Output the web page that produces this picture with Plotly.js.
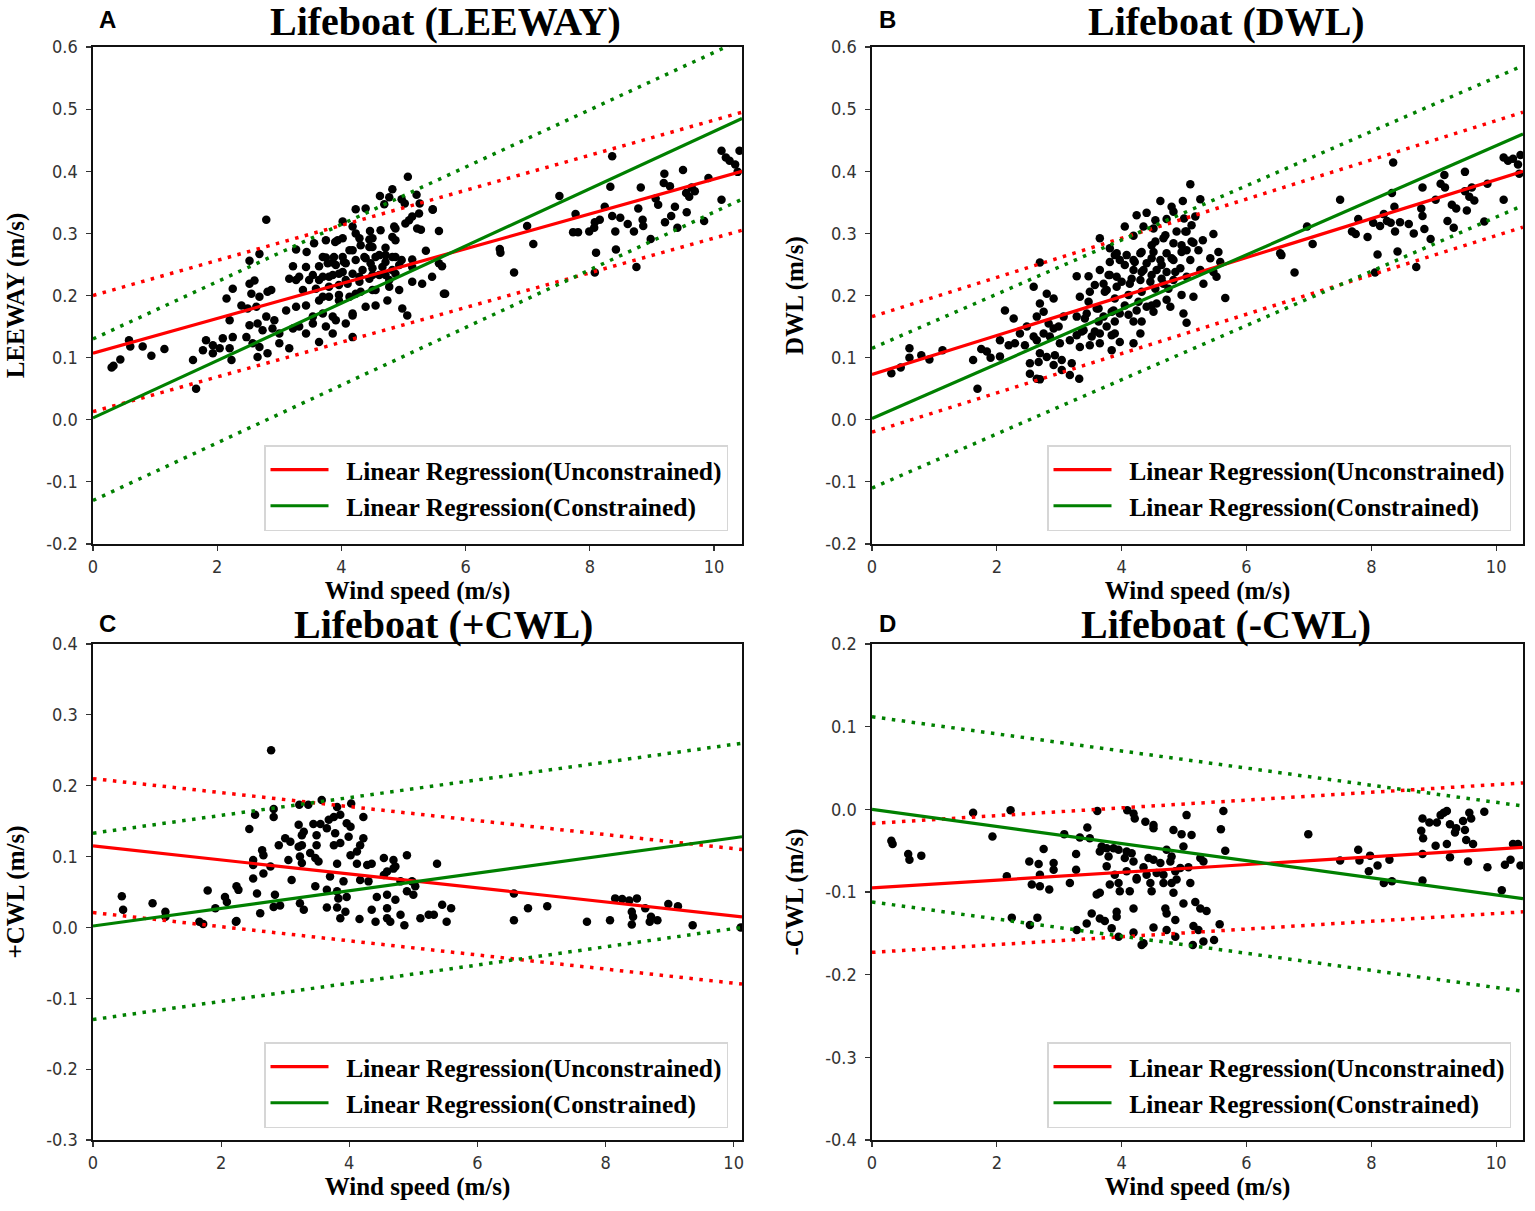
<!DOCTYPE html>
<html>
<head>
<meta charset="utf-8">
<script src="https://cdn.plot.ly/plotly-3.0.1.min.js"></script>
<style>
  html, body { margin: 0; padding: 0; background: #fff; overflow: hidden; }
  #myDiv { width: 1535px; height: 1211px; }
</style>
</head>
<body>
<div id="myDiv"></div>
<script>
//  ======== DATA ========
// wind speed (m/s) and drift speed (m/s)

// A: leeway
var leewayWind = [5.07,4.82,4.62,4.77,4.97,5.21,5.26,5.02,4.69,4.39,4.23,5.47,5.25,2.79,5.09,5.14,5.03,4.02,4.18,5.22,
  4.87,4.63,4.46,4.29,4.45,4.82,5.57,3.75,3.90,4.02,4.50,4.71,3.27,3.44,4.18,3.88,4.02,3.75,4.37,4.61,
  4.82,4.97,5.14,5.36,2.52,2.68,3.22,3.43,3.64,3.86,4.07,4.23,4.47,4.71,4.93,5.14,5.57,5.62,5.46,2.60,
  2.52,2.25,2.15,2.55,2.68,2.81,2.87,3.16,3.32,3.54,3.64,3.80,3.96,4.07,4.29,4.50,4.71,4.87,5.14,5.30,
  2.20,2.39,2.49,2.63,2.79,2.92,3.11,3.27,3.43,3.64,3.80,3.96,4.13,4.31,4.55,4.77,4.93,3.54,3.70,3.86,
  4.18,4.39,4.55,4.74,4.98,5.06,5.65,2.52,2.65,2.73,2.89,3.00,3.22,3.32,3.54,3.75,3.91,4.07,4.18,3.43,
  3.64,3.86,4.18,1.82,1.93,2.09,2.25,2.47,2.57,2.68,2.81,3.00,3.16,1.77,2.04,2.20,1.93,1.61,2.23,2.65,
  1.66,0.30,0.33,0.44,0.58,0.60,0.80,0.94,1.15,5.67,6.56,6.55,6.78,6.99,7.09,7.51,7.77,7.73,7.81,7.99,
  8.08,8.07,8.10,8.08,8.16,8.24,8.33,8.36,8.36,8.41,8.42,8.49,8.61,8.71,8.75,8.78,8.82,8.85,8.86,8.98,
  9.06,9.10,9.19,9.20,9.21,9.29,9.31,9.37,9.41,9.50,9.55,9.56,9.60,9.64,9.69,9.84,9.91,10.12,10.12,10.19,
  10.25,10.34,10.41,10.38,5.47,5.28,
  3.56,3.94,4.23,4.50,4.85,4.87,4.45,4.31,4.13,3.70,3.78,3.91,4.04,4.39,4.55,4.71,4.87,3.27,3.48,3.70,
  3.86,4.02,4.18,4.34,4.50,4.66,4.82,3.38,3.59,3.80,3.96,4.10,4.29,4.45,4.61,4.77,3.70,3.96,4.23,4.50];
var leewayVal = [0.391,0.371,0.360,0.358,0.355,0.362,0.348,0.348,0.347,0.340,0.339,0.339,0.332,0.322,0.321,0.327,0.316,0.319,0.311,0.308,
  0.308,0.305,0.304,0.292,0.290,0.294,0.304,0.289,0.286,0.292,0.278,0.277,0.274,0.270,0.273,0.262,0.262,0.261,0.262,0.265,
  0.262,0.257,0.258,0.272,0.256,0.267,0.247,0.246,0.247,0.253,0.252,0.257,0.252,0.254,0.249,0.246,0.252,0.247,0.230,0.224,
  0.219,0.211,0.195,0.203,0.198,0.206,0.209,0.227,0.230,0.233,0.225,0.230,0.235,0.225,0.230,0.233,0.233,0.235,0.222,0.219,
  0.160,0.184,0.179,0.182,0.166,0.160,0.176,0.182,0.184,0.192,0.198,0.192,0.198,0.206,0.209,0.214,0.209,0.166,0.171,0.166,
  0.171,0.182,0.184,0.192,0.179,0.168,0.203,0.152,0.155,0.144,0.147,0.139,0.147,0.150,0.155,0.150,0.160,0.155,0.168,0.139,
  0.125,0.139,0.133,0.128,0.120,0.131,0.133,0.133,0.123,0.117,0.107,0.123,0.115,0.112,0.115,0.115,0.107,0.096,0.096,0.101,
  0.050,0.084,0.087,0.097,0.128,0.118,0.118,0.103,0.114,0.203,0.269,0.275,0.237,0.312,0.283,0.360,0.331,0.302,0.302,0.303,
  0.318,0.309,0.269,0.237,0.322,0.343,0.375,0.424,0.328,0.303,0.274,0.325,0.315,0.303,0.246,0.340,0.374,0.322,0.312,0.291,
  0.356,0.346,0.381,0.396,0.318,0.376,0.328,0.343,0.309,0.402,0.365,0.334,0.359,0.374,0.368,0.320,0.389,0.354,0.433,0.422,
  0.417,0.411,0.433,0.399,0.338,0.306,
  0.284,0.289,0.300,0.292,0.311,0.289,0.278,0.281,0.273,0.262,0.252,0.249,0.254,0.260,0.262,0.265,0.262,0.225,0.225,0.230,
  0.233,0.238,0.235,0.241,0.244,0.246,0.241,0.209,0.211,0.214,0.217,0.219,0.222,0.227,0.233,0.225,0.198,0.201,0.203,0.209];

// B: downwind leeway
var dwlWind = [5.10,4.62,4.98,5.26,4.80,4.83,4.24,4.40,4.54,4.72,5.00,5.18,4.05,4.35,4.51,5.12,5.04,4.88,4.19,4.67,
  3.65,5.47,5.15,5.30,4.48,4.83,4.96,3.81,3.92,4.08,4.30,4.51,4.72,5.04,5.23,5.55,2.69,3.81,3.97,4.19,
  4.40,4.62,4.83,5.10,5.42,5.58,3.28,3.47,3.65,3.81,3.92,4.19,4.35,4.56,4.72,4.94,5.26,5.47,2.59,2.80,
  2.91,2.69,2.75,3.33,3.49,3.71,3.76,3.92,4.13,4.30,4.46,4.67,4.83,5.04,5.31,5.52,2.13,2.27,2.37,2.48,
  2.64,2.59,2.83,2.91,2.99,3.07,3.28,3.44,3.60,3.71,3.87,3.97,4.24,4.40,4.56,4.72,4.96,5.15,5.66,4.78,
  4.51,4.99,5.04,2.05,2.19,2.29,2.45,2.64,2.75,2.85,3.01,3.17,3.28,3.39,3.52,3.65,3.76,3.89,3.97,4.19,
  4.30,4.19,3.33,3.49,3.65,3.84,2.69,2.80,2.93,2.53,2.67,2.91,3.04,3.20,2.53,2.64,3.04,3.17,3.32,2.69,
  0.31,0.46,0.60,0.60,0.79,0.92,1.13,1.62,1.69,1.75,1.84,1.90,2.05,6.54,6.56,6.77,6.97,7.06,7.50,7.69,
  7.75,7.79,7.94,8.03,8.06,8.10,8.14,8.20,8.25,8.31,8.33,8.35,8.37,8.38,8.42,8.46,8.60,8.68,8.72,8.80,
  8.82,8.82,8.85,8.95,9.03,9.11,9.17,9.18,9.22,9.29,9.32,9.36,9.50,9.50,9.53,9.57,9.61,9.65,9.81,9.86,
  10.12,10.12,10.19,10.27,10.35,10.39,10.37,
  3.89,4.05,4.21,4.32,4.48,4.64,4.80,4.96,3.79,4.00,4.16,4.32,4.48,4.64,4.86,3.57,3.73,3.89,4.11,4.32,
  4.54,4.75,3.47,3.63,3.84,4.05,4.27,4.48,3.41,3.63,3.89,4.11,4.32,3.36,3.57,3.84,4.54,4.70,5.02,5.12];
var dwlVal = [0.379,0.352,0.352,0.355,0.343,0.335,0.329,0.333,0.321,0.323,0.324,0.327,0.311,0.311,0.308,0.313,0.303,0.303,0.296,0.292,
  0.292,0.299,0.285,0.289,0.281,0.284,0.281,0.276,0.268,0.265,0.268,0.270,0.268,0.273,0.273,0.270,0.253,0.254,0.257,0.257,
  0.252,0.257,0.257,0.257,0.260,0.254,0.231,0.231,0.241,0.233,0.230,0.241,0.241,0.241,0.238,0.244,0.241,0.238,0.214,0.203,
  0.195,0.187,0.174,0.198,0.206,0.219,0.209,0.214,0.219,0.225,0.222,0.219,0.225,0.230,0.219,0.230,0.176,0.163,0.139,0.150,
  0.166,0.134,0.155,0.147,0.150,0.166,0.166,0.171,0.179,0.166,0.176,0.171,0.176,0.182,0.187,0.193,0.201,0.198,0.196,0.182,
  0.174,0.171,0.156,0.128,0.120,0.123,0.120,0.128,0.139,0.134,0.123,0.128,0.136,0.144,0.134,0.139,0.150,0.139,0.125,0.158,
  0.139,0.123,0.117,0.120,0.123,0.112,0.107,0.101,0.104,0.091,0.093,0.088,0.096,0.091,0.074,0.066,0.080,0.072,0.066,0.065,
  0.075,0.084,0.100,0.115,0.104,0.097,0.112,0.096,0.050,0.114,0.110,0.100,0.102,0.268,0.265,0.237,0.311,0.283,0.354,0.303,
  0.299,0.323,0.294,0.317,0.237,0.266,0.312,0.331,0.320,0.317,0.365,0.414,0.343,0.303,0.271,0.318,0.315,0.300,0.246,0.340,
  0.374,0.328,0.307,0.291,0.354,0.380,0.394,0.374,0.320,0.346,0.309,0.340,0.399,0.368,0.337,0.359,0.374,0.353,0.319,0.380,
  0.354,0.422,0.417,0.420,0.411,0.426,0.396,
  0.265,0.249,0.254,0.270,0.260,0.249,0.260,0.270,0.233,0.222,0.227,0.238,0.233,0.227,0.238,0.217,0.206,0.195,0.201,0.206,
  0.211,0.211,0.190,0.179,0.174,0.184,0.190,0.184,0.163,0.158,0.158,0.169,0.158,0.142,0.142,0.136,0.287,0.297,0.303,0.287];

// C: positive crosswind leeway
var pcwlWind = [2.78,3.57,3.22,3.36,3.81,4.03,2.53,2.82,2.82,4.22,2.44,3.21,3.44,3.55,3.68,3.76,3.86,3.96,3.29,3.26,
  3.49,3.65,3.78,4.02,3.99,4.22,2.90,3.00,3.08,3.21,3.26,3.49,3.76,3.86,4.17,2.64,2.66,2.50,3.39,3.47,
  3.52,3.23,4.12,4.02,3.05,2.50,2.77,3.26,3.81,4.12,4.28,4.35,4.54,4.69,4.90,5.37,2.66,2.50,3.10,3.70,
  3.91,4.17,4.30,4.54,4.72,4.59,4.69,4.80,4.98,5.03,2.24,2.27,2.56,2.84,3.47,3.65,3.83,3.81,3.96,4.43,
  4.59,4.72,4.90,2.06,2.09,2.82,2.92,3.23,3.29,3.65,3.81,3.94,4.35,4.59,4.80,5.00,5.45,5.59,2.61,3.86,
  4.16,4.41,4.59,4.64,4.86,5.11,5.24,5.32,5.52,2.24,
  0.45,0.47,0.93,1.13,1.13,1.66,1.72,1.79,1.91,2.23,6.57,6.57,6.79,7.09,7.71,8.07,8.15,8.26,8.37,8.41,
  8.41,8.43,8.49,8.62,8.69,8.71,8.81,8.98,9.13,9.36,10.11];
var pcwlVal = [0.250,0.180,0.173,0.173,0.170,0.175,0.159,0.167,0.156,0.156,0.139,0.145,0.146,0.146,0.152,0.156,0.159,0.147,0.135,0.130,
  0.130,0.140,0.133,0.142,0.128,0.126,0.116,0.126,0.121,0.114,0.116,0.116,0.116,0.119,0.116,0.109,0.102,0.095,0.105,0.098,
  0.093,0.100,0.107,0.102,0.095,0.088,0.086,0.091,0.090,0.090,0.088,0.090,0.098,0.095,0.102,0.090,0.076,0.069,0.067,0.072,
  0.065,0.067,0.065,0.074,0.086,0.079,0.083,0.065,0.065,0.058,0.058,0.053,0.048,0.046,0.058,0.053,0.041,0.051,0.043,0.043,
  0.046,0.039,0.051,0.043,0.036,0.029,0.031,0.034,0.025,0.028,0.028,0.022,0.025,0.027,0.018,0.046,0.032,0.027,0.020,0.013,
  0.012,0.008,0.013,0.008,0.003,0.013,0.018,0.018,0.008,0.009,
  0.044,0.025,0.034,0.022,0.015,0.008,0.005,0.052,0.027,0.008,0.010,0.048,0.027,0.030,0.008,0.010,0.041,0.040,0.038,0.004,
  0.022,0.015,0.041,0.027,0.008,0.015,0.010,0.033,0.030,0.003,0.000];

// D: negative crosswind leeway
var ncwlWind = [2.22,1.93,3.61,4.09,4.19,4.21,4.38,4.51,4.51,5.04,5.63,5.59,5.66,4.83,4.96,5.12,4.99,3.45,3.33,3.49,
  3.08,2.75,3.27,2.52,2.67,2.91,2.91,3.27,3.68,3.65,3.76,3.87,3.95,4.08,4.16,3.79,4.05,4.19,4.43,4.51,
  4.35,4.62,4.80,4.78,4.72,5.26,5.07,5.31,2.16,2.69,2.56,2.69,2.84,3.17,3.76,3.89,4.08,4.24,4.40,4.56,
  4.67,4.86,4.94,3.81,3.95,3.97,4.13,4.24,4.46,4.48,4.67,4.80,4.88,5.10,3.65,3.60,4.83,4.19,4.70,4.72,
  4.99,5.18,5.26,5.36,3.52,3.65,3.73,3.92,3.92,4.86,3.44,2.24,2.65,2.53,3.28,3.84,3.95,4.19,4.51,4.72,
  5.15,5.23,5.57,4.35,4.32,4.86,5.14,5.31,5.48,
  0.31,0.33,0.58,0.60,0.79,1.62,6.99,7.50,7.79,7.81,7.98,7.96,8.10,8.20,8.29,8.33,8.80,8.83,8.82,8.82,
  8.82,8.93,9.03,9.05,9.11,9.16,9.21,9.21,9.26,9.26,9.34,9.36,9.47,9.50,9.52,9.55,9.57,9.60,9.63,9.81,
  9.86,10.09,10.14,10.23,10.27,10.35,10.39];
var ncwlVal = [-0.001,-0.033,-0.002,-0.001,-0.005,-0.011,-0.015,-0.019,-0.023,-0.007,-0.002,-0.024,-0.050,-0.025,-0.030,-0.031,-0.045,-0.022,-0.034,-0.035,
  -0.030,-0.048,-0.054,-0.063,-0.066,-0.065,-0.073,-0.073,-0.045,-0.051,-0.047,-0.047,-0.049,-0.051,-0.053,-0.057,-0.059,-0.063,-0.059,-0.061,
  -0.070,-0.065,-0.057,-0.063,-0.049,-0.059,-0.070,-0.063,-0.081,-0.079,-0.091,-0.093,-0.097,-0.089,-0.069,-0.079,-0.075,-0.083,-0.079,-0.077,
  -0.079,-0.075,-0.071,-0.091,-0.089,-0.099,-0.099,-0.085,-0.089,-0.099,-0.089,-0.089,-0.085,-0.089,-0.101,-0.103,-0.101,-0.120,-0.120,-0.126,
  -0.114,-0.112,-0.120,-0.123,-0.126,-0.132,-0.135,-0.124,-0.130,-0.134,-0.138,-0.131,-0.131,-0.140,-0.146,-0.144,-0.154,-0.149,-0.143,-0.146,
  -0.141,-0.146,-0.139,-0.162,-0.164,-0.154,-0.164,-0.160,-0.158,
  -0.038,-0.042,-0.054,-0.061,-0.056,-0.004,-0.030,-0.062,-0.049,-0.062,-0.056,-0.075,-0.068,-0.089,-0.061,-0.087,-0.026,-0.035,-0.011,-0.054,
  -0.086,-0.016,-0.044,-0.016,-0.007,-0.004,-0.002,-0.042,-0.058,-0.018,-0.028,-0.023,-0.014,-0.025,-0.037,-0.063,-0.004,-0.011,-0.042,-0.003,
  -0.070,-0.098,-0.067,-0.061,-0.042,-0.042,-0.068];

// regression lines and their bands, read at the left and right edge of each panel
var leewayLineWind = [0, 10.45];
var leewayUnc = [0.107, 0.400], leewayUncHi = [0.200, 0.495], leewayUncLo = [0.013, 0.305];
var leewayCon = [0.003, 0.485], leewayConHi = [0.130, 0.612], leewayConLo = [-0.130, 0.355];

var dwlLineWind = [0, 10.43];
var dwlUnc = [0.073, 0.400], dwlUncHi = [0.166, 0.495], dwlUncLo = [-0.020, 0.310];
var dwlCon = [0.002, 0.460], dwlConHi = [0.115, 0.570], dwlConLo = [-0.110, 0.345];

var pcwlLineWind = [0, 10.13];
var pcwlUnc = [0.115, 0.015], pcwlUncHi = [0.210, 0.110], pcwlUncLo = [0.021, -0.080];
var pcwlCon = [0.002, 0.128], pcwlConHi = [0.133, 0.260], pcwlConLo = [-0.130, 0.000];

var ncwlLineWind = [0, 10.43];
var ncwlUnc = [-0.095, -0.046], ncwlUncHi = [-0.017, 0.032], ncwlUncLo = [-0.173, -0.124];
var ncwlCon = [0.000, -0.108], ncwlConHi = [0.112, 0.004], ncwlConLo = [-0.112, -0.220];

// ticks
var windTicks = [0, 2, 4, 6, 8, 10];
var ticksAB = [-0.2, -0.1, 0, 0.1, 0.2, 0.3, 0.4, 0.5, 0.6];
var labelsAB = ['-0.2', '-0.1', '0.0', '0.1', '0.2', '0.3', '0.4', '0.5', '0.6'];
var ticksC = [-0.3, -0.2, -0.1, 0, 0.1, 0.2, 0.3, 0.4];
var labelsC = ['-0.3', '-0.2', '-0.1', '0.0', '0.1', '0.2', '0.3', '0.4'];
var ticksD = [-0.4, -0.3, -0.2, -0.1, 0, 0.1, 0.2];
var labelsD = ['-0.4', '-0.3', '-0.2', '-0.1', '0.0', '0.1', '0.2'];

// nbsp pads the gap between legend line and text
var nameUnc = '\u00a0\u00a0Linear Regression(Unconstrained)';
var nameCon = '\u00a0\u00a0Linear Regression(Constrained)';

//  ======== TRACES ========
var RED = '#ff0000';
var GREEN = '#008000';
var SERIF = 'Liberation Serif, Times New Roman, serif';

var plotData = [];

function tracePanel(xa, ya, legend, wind, val, lineWind, unc, uncHi, uncLo, con, conHi, conLo) {
  plotData.push({
    x: wind, y: val, xaxis: xa, yaxis: ya,
    mode: 'markers', type: 'scatter', showlegend: false,
    marker: {color: '#000', size: 8.5}
  });
  // dotted bands
  [[uncHi, RED], [uncLo, RED], [conHi, GREEN], [conLo, GREEN]].forEach(function(b) {
    plotData.push({
      x: lineWind, y: b[0], xaxis: xa, yaxis: ya,
      mode: 'lines', type: 'scatter', showlegend: false,
      line: {color: b[1], width: 3.5, dash: '3.5px,6.5px'}
    });
  });
  plotData.push({
    x: lineWind, y: unc, xaxis: xa, yaxis: ya, legend: legend,
    mode: 'lines', type: 'scatter', name: nameUnc,
    line: {color: RED, width: 3.2}
  });
  plotData.push({
    x: lineWind, y: con, xaxis: xa, yaxis: ya, legend: legend,
    mode: 'lines', type: 'scatter', name: nameCon,
    line: {color: GREEN, width: 3.2}
  });
}

tracePanel('x', 'y', 'legend', leewayWind, leewayVal, leewayLineWind,
  leewayUnc, leewayUncHi, leewayUncLo, leewayCon, leewayConHi, leewayConLo);
tracePanel('x2', 'y2', 'legend2', dwlWind, dwlVal, dwlLineWind,
  dwlUnc, dwlUncHi, dwlUncLo, dwlCon, dwlConHi, dwlConLo);
tracePanel('x3', 'y3', 'legend3', pcwlWind, pcwlVal, pcwlLineWind,
  pcwlUnc, pcwlUncHi, pcwlUncLo, pcwlCon, pcwlConHi, pcwlConLo);
tracePanel('x4', 'y4', 'legend4', ncwlWind, ncwlVal, ncwlLineWind,
  ncwlUnc, ncwlUncHi, ncwlUncLo, ncwlCon, ncwlConHi, ncwlConLo);

//  ======== LAYOUT ========
var W = 1535, H = 1211;
var colL = [93 / W, 742 / W], colR = [872 / W, 1523 / W];
var rowT = [1 - 544 / H, 1 - 47 / H], rowB = [1 - 1140 / H, 1 - 644 / H];

function axisBase() {
  return {
    showline: true, mirror: true, linecolor: '#111', linewidth: 1.6,
    ticks: 'outside', ticklen: 5, tickwidth: 1.2, tickcolor: '#333', ticklabelstandoff: 5,
    showgrid: false, zeroline: false, fixedrange: true,
    tickfont: {family: 'DejaVu Sans Condensed, Liberation Sans Narrow, sans-serif', size: 18, color: '#333'}
  };
}

function xAxis(domain, anchor, maxWind) {
  var a = axisBase();
  a.domain = domain; a.anchor = anchor; a.range = [0, maxWind];
  a.tickvals = windTicks;
  a.ticklabelstandoff = 1;
  a.title = {text: 'Wind speed (m/s)', standoff: 0, font: {family: SERIF, size: 25, weight: 'bold', color: '#000'}};
  return a;
}

function yAxis(domain, anchor, range, vals, labels, title) {
  var a = axisBase();
  a.domain = domain; a.anchor = anchor; a.range = range;
  a.tickvals = vals; a.ticktext = labels;
  a.title = {text: title, standoff: 14, font: {family: SERIF, size: 25, weight: 'bold', color: '#000'}};
  return a;
}

function legendBox(x, y) {
  return {
    x: x, y: y, xanchor: 'right', yanchor: 'bottom',
    bgcolor: '#fff', bordercolor: '#d6d6d6', borderwidth: 1.5,
    itemwidth: 58, itemclick: false, itemdoubleclick: false,
    font: {family: SERIF, size: 25.5, weight: 'bold', color: '#000'}
  };
}

function title(text, x, y) {
  return {text: text, x: x, y: y, xref: 'paper', yref: 'paper', xanchor: 'center', yanchor: 'middle',
    showarrow: false, font: {family: SERIF, size: 40, weight: 'bold', color: '#000'}};
}

function letter(text, x, y) {
  return {text: text, x: x, y: y, xref: 'paper', yref: 'paper', xanchor: 'left', yanchor: 'middle',
    showarrow: false, font: {family: 'Liberation Sans, Arial, sans-serif', size: 24, weight: 'bold', color: '#000'}};
}

var layout = {
  width: W, height: H,
  margin: {l: 0, r: 0, t: 0, b: 0, pad: 0},
  paper_bgcolor: '#fff', plot_bgcolor: '#fff',
  xaxis: xAxis(colL, 'y', leewayLineWind[1]),
  xaxis2: xAxis(colR, 'y2', dwlLineWind[1]),
  xaxis3: xAxis(colL, 'y3', pcwlLineWind[1]),
  xaxis4: xAxis(colR, 'y4', ncwlLineWind[1]),
  yaxis: yAxis(rowT, 'x', [-0.2, 0.6], ticksAB, labelsAB, 'LEEWAY (m/s)'),
  yaxis2: yAxis(rowT, 'x2', [-0.2, 0.6], ticksAB, labelsAB, 'DWL (m/s)'),
  yaxis3: yAxis(rowB, 'x3', [-0.3, 0.4], ticksC, labelsC, '+CWL (m/s)'),
  yaxis4: yAxis(rowB, 'x4', [-0.4, 0.2], ticksD, labelsD, '-CWL (m/s)'),
  legend: legendBox(728 / W, 1 - 531 / H),
  legend2: legendBox(1511 / W, 1 - 531 / H),
  legend3: legendBox(728 / W, 1 - 1128 / H),
  legend4: legendBox(1511 / W, 1 - 1128 / H),
  annotations: [
    title('Lifeboat (LEEWAY)', 445 / W, 1 - 22 / H),
    title('Lifeboat (DWL)', 1226 / W, 1 - 22 / H),
    title('Lifeboat (+CWL)', 443 / W, 1 - 624 / H),
    title('Lifeboat (-CWL)', 1226 / W, 1 - 624 / H),
    letter('A', 97 / W, 1 - 19 / H),
    letter('B', 877 / W, 1 - 19 / H),
    letter('C', 97 / W, 1 - 623 / H),
    letter('D', 877 / W, 1 - 623 / H)
  ],
  showlegend: true
};

var config = {responsive: false, displayModeBar: false, staticPlot: true};

Plotly.newPlot('myDiv', plotData, layout, config);
</script>
</body>
</html>
